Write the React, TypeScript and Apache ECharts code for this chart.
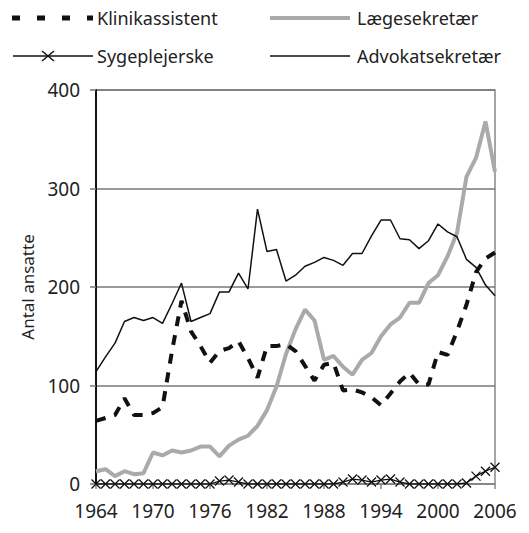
import React, { useEffect, useRef } from "react";
import * as echarts from "echarts";

const years: string[] = [];
for (let y = 1964; y <= 2006; y++) years.push(String(y));

const klinikassistent = [
  64, 67, 70, 87, 70, 70, 72, 78, 135, 186, 155, 140, 123, 135, 138, 145, 128, 108, 140, 140, 142,
  135, 120, 105, 121, 123, 95, 96, 93, 88, 80, 92, 104, 113, 101, 101, 134, 131, 155, 182, 215, 229, 235,
];
const laegesekretaer = [
  13, 15, 8, 13, 10, 11, 32, 29, 34, 32, 34, 38, 38, 28, 39, 45, 49, 59, 75, 99, 132,
  157, 177, 166, 126, 130, 119, 111, 126, 133, 150, 162, 169, 184, 184, 204, 212, 231, 255, 312, 331, 368, 317,
];
const sygeplejerske = [
  0, 0, 0, 0, 0, 0, 0, 0, 0, 0, 0, 0, 0, 3, 4, 2, 0, 0, 0, 0, 0,
  0, 0, 0, 0, 0, 2, 5, 4, 2, 4, 5, 2, 0, 0, 0, 0, 0, 0, 1, 8, 13, 17,
];
const advokatsekretaer = [
  114, 129, 143, 165, 169, 166, 169, 163, 183, 204, 165, 169, 173, 195, 195, 214, 198, 279, 236, 238, 206,
  212, 221, 225, 230, 227, 222, 234, 234, 252, 268, 268, 249, 248, 239, 247, 264, 256, 251, 228, 220, 202, 191,
];

const seriesNames = ["Klinikassistent", "Lægesekretær", "Sygeplejerske", "Advokatsekretær"];

const FONT = "Noto Sans";
const TXT = "#222";
const DARK = "#111";
const GRAY = "#aaa";

export default function App() {
  const ref = useRef<HTMLDivElement>(null);
  useEffect(() => {
    if (!ref.current) return;
    const chart = echarts.init(ref.current, undefined, { renderer: "svg" });

    const legendText = (text: string, x: number, y: number) => ({
      type: "text",
      x,
      y,
      style: { text, fontFamily: FONT, fontSize: 18, fill: TXT, verticalAlign: "middle", align: "left" },
    });
    const legendLine = (x1: number, x2: number, y: number, style: any) => ({
      type: "line",
      shape: { x1, y1: y, x2, y2: y },
      style,
    });
    const crossStroke = (pts: number[][]) => ({
      type: "polyline",
      shape: { points: pts },
      style: { stroke: DARK, lineWidth: 1.5, fill: "none" },
    });
    const row1 = 18;
    const row2 = 56;

    chart.setOption({
      animation: false,
      backgroundColor: "#fff",
      textStyle: { fontFamily: FONT },
      legend: { show: false },
      graphic: [
        legendLine(12, 93, row1, { stroke: DARK, lineWidth: 5, lineDash: [8, 17] }),
        legendText(seriesNames[0], 97, row1),
        legendLine(270, 350, row1, { stroke: GRAY, lineWidth: 4 }),
        legendText(seriesNames[1], 357, row1),
        legendLine(13, 93, row2, { stroke: DARK, lineWidth: 1.3 }),
        crossStroke([[42, row2 - 5], [54, row2 + 5]]),
        crossStroke([[54, row2 - 5], [42, row2 + 5]]),
        legendText(seriesNames[2], 97, row2),
        legendLine(270, 350, row2, { stroke: DARK, lineWidth: 1.5 }),
        legendText(seriesNames[3], 357, row2),
      ],
      grid: {
        left: 96,
        right: 34,
        top: 90,
        bottom: 49,
        show: true,
        borderColor: "#888",
        borderWidth: 1.5,
      },
      xAxis: {
        type: "category",
        data: years,
        boundaryGap: false,
        axisLine: { lineStyle: { color: "#888", width: 1.5 } },
        axisTick: { interval: 5, length: 5, lineStyle: { color: "#888", width: 1.5 } },
        axisLabel: {
          interval: 5,
          margin: 17,
          fontSize: 19,
          fontFamily: FONT,
          color: TXT,
        },
      },
      yAxis: {
        type: "value",
        min: 0,
        max: 400,
        interval: 100,
        name: "Antal ansatte",
        nameLocation: "middle",
        nameGap: 60,
        nameTextStyle: { fontFamily: FONT, fontSize: 17, color: TXT },
        axisLine: { show: true, lineStyle: { color: DARK, width: 2 } },
        axisTick: { show: true, length: 6, lineStyle: { color: "#777", width: 1.5 } },
        axisLabel: { margin: 16, fontSize: 19, fontFamily: FONT, color: TXT },
        splitLine: { lineStyle: { color: "#777", width: 1.5 } },
      },
      series: [
        {
          name: seriesNames[0],
          type: "line",
          data: klinikassistent,
          symbol: "none",
          z: 4,
          lineStyle: { color: DARK, width: 4, type: [10, 9] },
        },
        {
          name: seriesNames[1],
          type: "line",
          data: laegesekretaer,
          symbol: "none",
          z: 3,
          lineStyle: { color: GRAY, width: 4 },
        },
        {
          name: seriesNames[2],
          type: "line",
          data: sygeplejerske,
          symbol: "path://M0,0L10,10M10,0L0,10",
          symbolSize: 9,
          showSymbol: true,
          showAllSymbol: true,
          z: 5,
          lineStyle: { color: DARK, width: 1.3 },
          itemStyle: { color: "transparent", borderColor: DARK, borderWidth: 1.3 },
        },
        {
          name: seriesNames[3],
          type: "line",
          data: advokatsekretaer,
          symbol: "none",
          z: 4,
          lineStyle: { color: DARK, width: 1.5 },
        },
      ],
    });
    return () => chart.dispose();
  }, []);
  return <div ref={ref} style={{ width: 529, height: 533, position: "absolute", left: 0, top: 0 }} />;
}
